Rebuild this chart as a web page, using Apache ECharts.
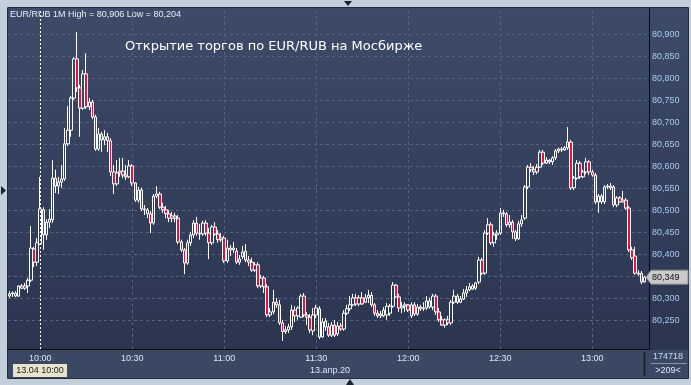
<!DOCTYPE html>
<html><head><meta charset="utf-8">
<script src="https://cdn.jsdelivr.net/npm/echarts@6/dist/echarts.min.js"></script>
<style>html,body{margin:0;padding:0;background:#c4cfdc;overflow:hidden}#c{width:691px;height:385px}</style>
</head><body><div id="c"></div>
<script>
// ---- data ----
const startTime = '09:50';
const slotCount = 209;           // minute slots shown on the axis
const xLabelTimes = ['10:00','10:30','11:00','11:30','12:00','12:30','13:00'];
const gridTimes = ['10:30','11:00','11:30','12:00','12:30','13:00'];
const crossTime = '10:00';
const yTicks = [80.25,80.30,80.35,80.40,80.45,80.50,80.55,80.60,80.65,80.70,80.75,80.80,80.85,80.90];
const yMin = 80.1857, yMax = 80.9584;

const opens = [
80.306,80.311,80.313,80.306,80.329,80.324,80.329,80.342,80.413,80.383,
80.424,80.502,80.445,80.474,80.479,80.574,80.556,80.565,80.572,80.652,
80.683,80.756,80.845,80.779,80.733,80.811,80.736,80.747,80.713,80.640,
80.674,80.661,80.668,80.659,80.588,80.561,80.586,80.590,80.581,80.577,
80.602,80.563,80.524,80.547,80.504,80.502,80.493,80.472,80.533,80.538,
80.508,80.502,80.493,80.483,80.488,80.483,80.429,80.411,80.381,80.427,
80.445,80.472,80.449,80.447,80.472,80.449,80.427,80.463,80.447,80.434,
80.438,80.386,80.415,80.411,80.408,80.383,80.395,80.408,80.388,80.383,
80.365,80.377,80.329,80.347,80.327,80.263,80.270,80.292,80.286,80.245,
80.225,80.229,80.236,80.274,80.261,80.258,80.306,80.263,80.258,80.227,
80.263,80.277,80.213,80.249,80.236,80.217,80.240,80.220,80.238,80.231,
80.267,80.277,80.286,80.302,80.288,80.302,80.292,80.302,80.308,80.286,
80.267,80.261,80.261,80.263,80.267,80.283,80.331,80.304,80.279,80.283,
80.286,80.261,80.286,80.265,80.281,80.277,80.279,80.295,80.281,80.306,
80.270,80.252,80.240,80.252,80.245,80.292,80.306,80.292,80.299,80.313,
80.320,80.322,80.324,80.338,80.388,80.358,80.449,80.468,80.427,80.445,
80.449,80.495,80.493,80.468,80.474,80.452,80.436,80.470,80.483,80.554,
80.599,80.593,80.588,80.599,80.633,80.608,80.615,80.611,80.620,80.636,
80.640,80.638,80.643,80.656,80.552,80.574,80.608,80.577,80.588,80.611,
80.588,80.581,80.520,80.533,80.520,80.554,80.556,80.554,80.513,80.529,
80.520,80.524,80.506,80.411,80.397,80.358,80.358,80.338];
const closes = [
80.311,80.313,80.306,80.329,80.324,80.329,80.342,80.415,80.383,80.427,
80.504,80.445,80.474,80.481,80.574,80.556,80.565,80.572,80.652,80.683,
80.756,80.845,80.779,80.733,80.811,80.736,80.747,80.713,80.640,80.674,
80.661,80.668,80.659,80.588,80.561,80.586,80.590,80.581,80.577,80.602,
80.563,80.524,80.547,80.504,80.502,80.493,80.472,80.533,80.538,80.508,
80.502,80.493,80.483,80.488,80.483,80.429,80.411,80.381,80.427,80.445,
80.472,80.449,80.447,80.472,80.449,80.427,80.463,80.447,80.434,80.438,
80.386,80.415,80.411,80.415,80.383,80.390,80.406,80.388,80.383,80.365,
80.377,80.329,80.347,80.327,80.263,80.270,80.292,80.286,80.245,80.225,
80.229,80.236,80.274,80.261,80.279,80.306,80.263,80.258,80.229,80.263,
80.279,80.213,80.247,80.236,80.217,80.240,80.217,80.238,80.231,80.267,
80.277,80.286,80.302,80.288,80.302,80.288,80.302,80.308,80.286,80.267,
80.261,80.265,80.274,80.283,80.283,80.331,80.304,80.279,80.283,80.286,
80.274,80.286,80.265,80.281,80.277,80.279,80.295,80.281,80.306,80.270,
80.252,80.240,80.252,80.245,80.292,80.306,80.292,80.299,80.313,80.320,
80.327,80.329,80.336,80.388,80.358,80.449,80.468,80.427,80.445,80.449,
80.495,80.493,80.468,80.474,80.452,80.436,80.470,80.479,80.554,80.599,
80.593,80.588,80.599,80.633,80.608,80.615,80.611,80.620,80.636,80.640,
80.638,80.643,80.656,80.552,80.574,80.608,80.577,80.588,80.611,80.588,
80.581,80.520,80.533,80.520,80.554,80.556,80.552,80.513,80.529,80.520,
80.524,80.506,80.411,80.393,80.358,80.356,80.338,80.349];
const lows = [
80.302,80.304,80.304,80.304,80.322,80.320,80.313,80.338,80.372,80.374,
80.422,80.411,80.434,80.461,80.472,80.540,80.538,80.552,80.568,80.647,
80.668,80.752,80.770,80.668,80.729,80.731,80.729,80.708,80.636,80.636,
80.633,80.649,80.633,80.579,80.538,80.556,80.577,80.574,80.570,80.574,
80.556,80.520,80.518,80.499,80.490,80.483,80.449,80.468,80.529,80.504,
80.495,80.483,80.474,80.474,80.474,80.424,80.406,80.356,80.377,80.420,
80.438,80.443,80.434,80.443,80.443,80.390,80.422,80.443,80.427,80.429,
80.381,80.381,80.397,80.404,80.379,80.377,80.390,80.383,80.374,80.361,
80.361,80.324,80.324,80.313,80.258,80.258,80.265,80.279,80.240,80.204,
80.220,80.222,80.229,80.247,80.252,80.256,80.258,80.240,80.222,80.217,
80.256,80.208,80.211,80.227,80.213,80.213,80.213,80.215,80.227,80.227,
80.263,80.272,80.283,80.283,80.283,80.286,80.290,80.290,80.281,80.261,
80.256,80.256,80.258,80.252,80.261,80.279,80.302,80.270,80.267,80.270,
80.270,80.256,80.261,80.261,80.272,80.272,80.274,80.277,80.274,80.263,
80.247,80.238,80.234,80.240,80.240,80.288,80.288,80.290,80.297,80.304,
80.317,80.320,80.320,80.333,80.354,80.354,80.445,80.422,80.418,80.434,
80.445,80.486,80.463,80.461,80.436,80.431,80.434,80.463,80.479,80.549,
80.588,80.581,80.583,80.597,80.604,80.606,80.606,80.604,80.615,80.631,
80.633,80.636,80.638,80.547,80.547,80.570,80.572,80.574,80.583,80.581,
80.577,80.515,80.495,80.515,80.515,80.549,80.547,80.508,80.508,80.518,
80.518,80.502,80.406,80.388,80.354,80.352,80.333,80.336];
const highs = [
80.317,80.317,80.317,80.331,80.333,80.336,80.347,80.465,80.418,80.438,
80.577,80.508,80.481,80.504,80.615,80.593,80.577,80.604,80.688,80.738,
80.761,80.849,80.906,80.786,80.820,80.858,80.756,80.752,80.718,80.688,
80.679,80.683,80.677,80.665,80.604,80.615,80.620,80.620,80.604,80.615,
80.606,80.565,80.554,80.552,80.513,80.506,80.499,80.538,80.556,80.543,
80.518,80.511,80.502,80.497,80.495,80.490,80.434,80.415,80.434,80.452,
80.479,80.486,80.470,80.477,80.479,80.461,80.468,80.474,80.456,80.449,
80.443,80.434,80.422,80.429,80.415,80.399,80.420,80.424,80.397,80.393,
80.383,80.383,80.354,80.352,80.333,80.279,80.320,80.302,80.297,80.252,
80.238,80.243,80.286,80.283,80.283,80.311,80.313,80.270,80.265,80.279,
80.286,80.283,80.256,80.256,80.245,80.247,80.252,80.247,80.245,80.274,
80.286,80.306,80.311,80.311,80.308,80.315,80.311,80.320,80.315,80.290,
80.274,80.272,80.281,80.290,80.288,80.338,80.333,80.311,80.292,80.292,
80.288,80.292,80.292,80.288,80.286,80.292,80.306,80.302,80.311,80.311,
80.279,80.261,80.256,80.261,80.297,80.320,80.311,80.306,80.322,80.329,
80.336,80.333,80.338,80.395,80.393,80.456,80.483,80.474,80.452,80.456,
80.506,80.502,80.497,80.490,80.479,80.456,80.477,80.490,80.558,80.604,
80.608,80.602,80.606,80.638,80.638,80.622,80.617,80.624,80.640,80.643,
80.645,80.647,80.690,80.661,80.579,80.615,80.613,80.593,80.620,80.615,
80.593,80.586,80.538,80.538,80.558,80.561,80.563,80.558,80.533,80.533,
80.545,80.529,80.511,80.418,80.418,80.365,80.363,80.352];

// ---- build ----
const times = [];
{
  const [h0, m0] = startTime.split(':').map(Number);
  for (let k = 0; k < slotCount; k++) {
    const t = h0 * 60 + m0 + k;
    times.push(String(Math.floor(t / 60)).padStart(2, '0') + ':' + String(t % 60).padStart(2, '0'));
  }
}
const candles = opens.map((o, i) => [o, closes[i], lows[i], highs[i]]);
const fmt = v => v.toFixed(3).replace('.', ',');
const hi = Math.max(...highs), lo = Math.min(...lows);
const lastClose = closes[closes.length - 1];

const chart = echarts.init(document.getElementById('c'), null, {renderer: 'canvas', width: 691, height: 385});
const FONT = 'Liberation Sans';

chart.setOption({
  animation: false,
  backgroundColor: '#c4cfdc',
  grid: {left: 8, right: 42, top: 9, bottom: 36},
  xAxis: {
    type: 'category', data: times, boundaryGap: true,
    axisLine: {show: true, lineStyle: {color: '#07090e', width: 1}},
    axisTick: {show: false},
    axisLabel: {interval: (i, v) => xLabelTimes.indexOf(v) >= 0, color: '#dfe6ef', fontSize: 9, margin: 5, fontFamily: FONT},
    splitLine: {show: false}
  },
  yAxis: {
    type: 'value', position: 'right', min: yMin, max: yMax,
    axisLine: {show: true, lineStyle: {color: '#07090e', width: 1}},
    axisTick: {show: false},
    axisLabel: {customValues: yTicks, formatter: fmt, color: '#a9c9ef', fontSize: 9, margin: 3, fontFamily: FONT},
    splitLine: {show: false}
  },
  series: [
    {
      type: 'line', data: [], silent: true, z: 1,
      markLine: {
        silent: true, z: 1, symbol: 'none', animation: false,
        label: {show: false},
        lineStyle: {color: '#56637f', type: [3, 3], width: 1},
        emphasis: {disabled: true},
        data: yTicks.map(v => ({yAxis: v})).concat(gridTimes.map(t => ({xAxis: t})))
      }
    },
    {
      type: 'candlestick', z: 3, barWidth: 3, data: candles,
      itemStyle: {color: 'rgba(0,0,0,0)', color0: '#e8103c', borderColor: '#ffffff', borderColor0: '#ffffff', borderWidth: 1},
      markLine: {
        silent: true, z: 4, symbol: 'none', animation: false,
        label: {show: false},
        lineStyle: {color: '#ffffff', type: [2, 2], width: 1},
        data: [{xAxis: crossTime}]
      }
    }
  ]
});

const cx = chart.convertToPixel({gridIndex: 0}, [crossTime, lastClose])[0];
const py = chart.convertToPixel({gridIndex: 0}, [times[0], lastClose])[1];

const bgGrad = new echarts.graphic.LinearGradient(0, 0, 0, 1, [
  {offset: 0, color: '#3d4b69'}, {offset: 1, color: '#2b3550'}
]);
const dark = '#1b2232';
chart.setOption({
  graphic: {elements: [
    {type: 'rect', z: -10, shape: {x: 8, y: 8, width: 680, height: 342}, style: {fill: bgGrad}},
    {type: 'rect', z: -10, shape: {x: 8, y: 350, width: 680, height: 28}, style: {fill: '#3b4863'}},
    {type: 'rect', z: -9, shape: {x: 7.5, y: 7.5, width: 681, height: 371}, style: {fill: null, stroke: '#242b3b', lineWidth: 1}},
    {type: 'line', z: 5, shape: {x1: 644.5, y1: 352, x2: 644.5, y2: 376}, style: {stroke: '#1f2636', lineWidth: 2}},
    {type: 'line', z: 5, shape: {x1: 651, y1: 363.5, x2: 687, y2: 363.5}, style: {stroke: '#8696ad', lineWidth: 1}},
    {type: 'text', z: 5, style: {x: 668, y: 357, text: '174718', fill: '#c9dbf2', font: '9px ' + FONT, textAlign: 'center', textVerticalAlign: 'middle'}},
    {type: 'text', z: 5, style: {x: 668, y: 371, text: '>209<', fill: '#dfe7f1', font: '9px ' + FONT, textAlign: 'center', textVerticalAlign: 'middle'}},
    {type: 'text', z: 5, style: {x: 310, y: 371, text: '13.апр.20', fill: '#dfe6ef', font: '9px ' + FONT, textAlign: 'left', textVerticalAlign: 'middle'}},
    // crosshair time box
    {type: 'rect', z: 6, shape: {x: Math.round(cx) - 27, y: 364, width: 54, height: 13}, style: {fill: '#e7e3cd'}},
    {type: 'text', z: 7, style: {x: Math.round(cx), y: 370.5, text: '13.04 10:00', fill: '#1a1a1a', font: '9px ' + FONT, textAlign: 'center', textVerticalAlign: 'middle'}},
    // header & title
    {type: 'text', z: 7, style: {x: 10, y: 15, text: 'EUR/RUB 1M High = ' + fmt(hi) + ' Low = ' + fmt(lo), fill: '#e9eef6', font: '9px ' + FONT, textAlign: 'left', textVerticalAlign: 'middle'}},
    {type: 'text', z: 7, style: {x: 125, y: 47, text: 'Открытие торгов по EUR/RUB на Мосбирже', fill: '#ffffff', font: '13px "DejaVu Sans"', textAlign: 'left', textVerticalAlign: 'middle'}},
    // last price tag
    {type: 'polygon', z: 20, shape: {points: [[646, py], [651, py - 7], [688, py - 7], [688, py + 7], [651, py + 7]]}, style: {fill: '#c9c9c9', stroke: '#8d8d8d', lineWidth: 1}},
    {type: 'text', z: 21, style: {x: 652, y: py, text: fmt(lastClose), fill: '#111111', font: '9px ' + FONT, textAlign: 'left', textVerticalAlign: 'middle'}},
    // frame arrows
    {type: 'polygon', z: 5, shape: {points: [[344, 1], [352, 1], [348, 6]]}, style: {fill: dark}},
    {type: 'polygon', z: 5, shape: {points: [[346, 385], [354, 385], [350, 379]]}, style: {fill: dark}},
    {type: 'polygon', z: 5, shape: {points: [[1, 186], [1, 195], [6, 190.5]]}, style: {fill: dark}}
  ]}
});
</script>
</body></html>
